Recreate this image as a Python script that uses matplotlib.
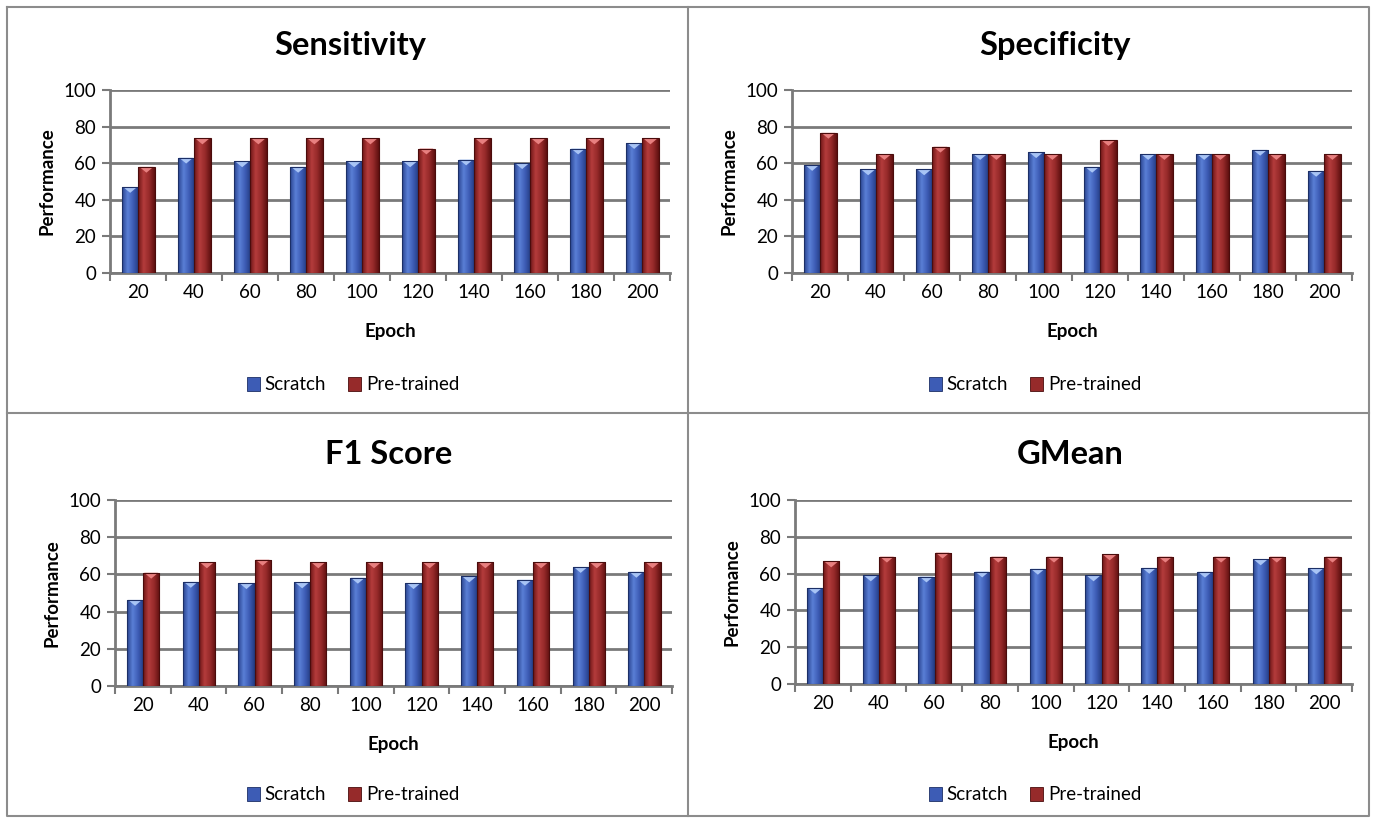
import numpy as np
import matplotlib
matplotlib.use('Agg')
import matplotlib.pyplot as plt
from matplotlib.patches import Rectangle, Polygon
from matplotlib.colors import LinearSegmentedColormap
from matplotlib.lines import Line2D

plt.rcParams['font.family'] = ['Lato', 'DejaVu Sans']

epochs = ['20', '40', '60', '80', '100', '120', '140', '160', '180', '200']
series_names = ['Scratch', 'Pre-trained']
titles = ['Sensitivity', 'Specificity', 'F1 Score', 'GMean']

sens_scratch = [47, 63, 61, 58, 61, 61, 62, 60, 68, 71]
sens_pre = [58, 73.5, 73.5, 73.5, 73.5, 68, 73.5, 73.5, 73.5, 73.5]
spec_scratch = [59, 56.6, 56.6, 65, 66, 58, 65, 65, 67.3, 55.8]
spec_pre = [76.6, 65, 69, 65, 65, 72.6, 65, 65, 65, 65]
f1_scratch = [46.3, 56, 55.3, 55.7, 58.2, 55.3, 58.9, 57.1, 64, 61.4]
f1_pre = [60.9, 66.5, 67.9, 66.5, 66.5, 66.5, 66.5, 66.5, 66.5, 66.5]
gm_scratch = [52.2, 59, 58.4, 61.1, 62.6, 59, 63.1, 61, 67.7, 62.8]
gm_pre = [66.6, 69.2, 71.4, 69.2, 69.2, 70.4, 69.2, 69.2, 69.2, 69.2]

panels = [
    (sens_scratch, sens_pre),
    (spec_scratch, spec_pre),
    (f1_scratch, f1_pre),
    (gm_scratch, gm_pre),
]

W, H = 1376, 823
fig = plt.figure(figsize=(W / 100, H / 100), dpi=100)

# pixel layout per panel: axes left/right/top/bottom, title x, legend x
layout = [
    dict(l=110, r=670, t=90, b=273, tx=350, lx=353, oy=0),
    dict(l=792, r=1352, t=90, b=273, tx=1055, lx=1035, oy=0),
    dict(l=115, r=672, t=500, b=686, tx=389, lx=353, oy=410),
    dict(l=795, r=1352, t=500, b=684, tx=1070, lx=1035, oy=410),
]

blue_cmap = LinearSegmentedColormap.from_list('b', ['#2a4490', '#5a7fd6', '#3d5cb5', '#223a80'])
red_cmap = LinearSegmentedColormap.from_list('r', ['#6e1616', '#b43c3c', '#962a2a', '#5e1010'])
tops = ['#a8c4f5', '#e88080']
edges = ['#1c2f66', '#4a0c0c']
cmaps = [blue_cmap, red_cmap]
grad = np.linspace(0, 1, 64).reshape(1, -1)

x = np.arange(len(epochs))
bw = 0.29
fs = 13.5

for k, (vals, lay) in enumerate(zip(panels, layout)):
    ax = fig.add_axes([lay['l'] / W, 1 - lay['b'] / H,
                       (lay['r'] - lay['l']) / W, (lay['b'] - lay['t']) / H])
    for s, v in enumerate(vals):
        offs = -bw if s == 0 else 0.0
        for xi, h in zip(x, v):
            x0 = xi + offs + 0.005
            rect = Rectangle((x0, 0), bw, h, facecolor='none',
                             edgecolor=edges[s], linewidth=0.8, zorder=4)
            ax.add_patch(rect)
            im = ax.imshow(grad, cmap=cmaps[s], extent=(x0, x0 + bw, 0, h),
                           aspect='auto', zorder=3, interpolation='bilinear')
            im.set_clip_path(rect)
            tri = Polygon([[x0 + 0.02, h], [x0 + bw - 0.02, h], [x0 + bw / 2, h - 3.2]],
                          closed=True, facecolor=tops[s], edgecolor='none', zorder=3.5)
            ax.add_patch(tri)

    ax.set_xlim(-0.5, len(epochs) - 0.5)
    ax.set_ylim(0, 100)
    ax.set_yticks(np.arange(0, 101, 20))
    ax.yaxis.grid(True, color='#7a7a7a', linewidth=2.0)
    ax.set_axisbelow(True)
    ax.set_xticks(np.arange(-0.5, len(epochs), 1.0))
    ax.set_xticklabels([])
    ax.set_xticks(x, minor=True)
    ax.set_xticklabels(epochs, minor=True)
    ax.tick_params(axis='x', which='major', length=6, width=1.5, color='#7a7a7a', direction='out')
    ax.tick_params(axis='x', which='minor', length=0, labelsize=fs, pad=8)
    ax.tick_params(axis='y', length=6, width=1.5, color='#7a7a7a', labelsize=fs, pad=4)
    for side in ['top', 'right']:
        ax.spines[side].set_visible(False)
    for side in ['left', 'bottom']:
        ax.spines[side].set_color('#7a7a7a')
        ax.spines[side].set_linewidth(2.0)
    ax.set_ylabel('Performance', fontsize=fs, fontweight='bold', labelpad=6)
    ax.set_xlabel('Epoch', fontsize=fs, fontweight='bold', labelpad=16)

    fig.text(lay['tx'] / W, 1 - (45 + lay['oy']) / H, titles[k], fontsize=23.5,
             fontweight='bold', ha='center', va='center')

    handles = [Rectangle((0, 0), 1, 1, facecolor=c, edgecolor=e, linewidth=0.6)
               for c, e in zip(['#3d5cb5', '#962a2a'], edges)]
    fig.legend(handles, series_names, loc='center',
               bbox_to_anchor=(lay['lx'] / W, 1 - (385 + lay['oy']) / H),
               ncol=2, frameon=False, fontsize=fs, handlelength=0.7,
               handleheight=0.7, handletextpad=0.25, columnspacing=1.2)

# panel borders
border = dict(color='#8c8c8c', linewidth=1.5, transform=fig.transFigure)
fig.add_artist(Line2D([7 / W, 1 - 7 / W, 1 - 7 / W, 7 / W, 7 / W],
                      [1 - 7 / H, 1 - 7 / H, 7 / H, 7 / H, 1 - 7 / H], **border))
fig.add_artist(Line2D([688 / W, 688 / W], [1 - 7 / H, 7 / H], **border))
fig.add_artist(Line2D([7 / W, 1 - 7 / W], [1 - 413 / H, 1 - 413 / H], **border))

fig.savefig('out.png', dpi=100)
